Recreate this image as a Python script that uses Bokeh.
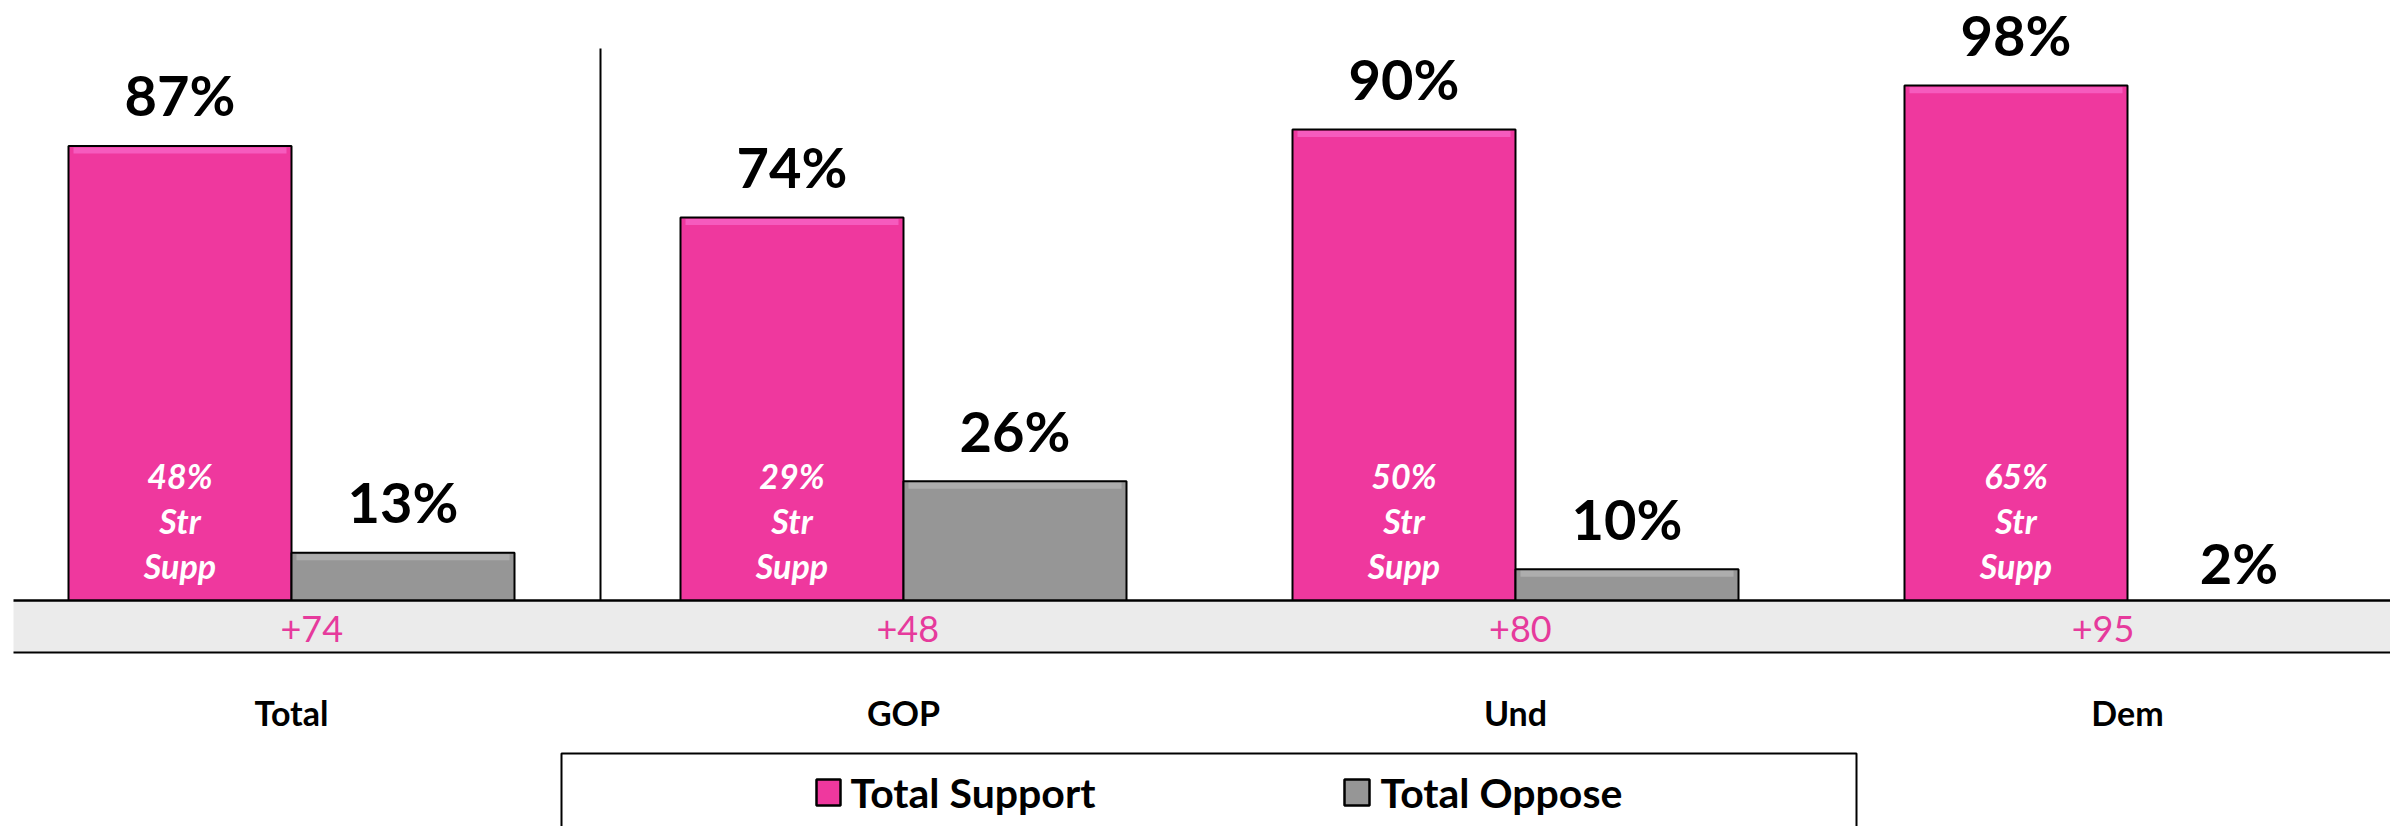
from bokeh.plotting import figure
from bokeh.models import Range1d
from bokeh.core.properties import value
from bokeh.embed import file_html
from bokeh.resources import INLINE

# ---------------- data ----------------
categories = ["Total", "GOP", "Und", "Dem"]
support = [87, 74, 90, 98]
oppose = [13, 26, 10, 2]
strong_support = [48, 29, 50, 65]
net = [74, 48, 80, 95]
legend_labels = ["Total Support", "Total Oppose"]

# ---------------- style / layout ----------------
PINK = "#EF389E"
PINK_HI = "#F764C6"
GREY = "#969696"
GREY_HI = "#B3B3B3"
BAND = "#EBEBEB"
NET_COLOR = "#E63A9C"
FONT = value("Lato")

ORIGIN = 0                         # page offset of the canvas
W, H = 2390, 826
X0_PX, CAT_PX = 291.0, 612.0      # page px of first category centre, px per category
ZERO_PX, UNIT_PX = 623.6, 5.496   # page px of value 0, px per percentage point

x_start = -(X0_PX - ORIGIN) / CAT_PX
x_end = x_start + W / CAT_PX
y_end = (ZERO_PX - ORIGIN) / UNIT_PX
y_start = y_end - H / UNIT_PX


def px_x(px):
    return x_start + (px - ORIGIN) / CAT_PX


def px_y(py):
    return (ZERO_PX - py) / UNIT_PX


BAR_W = 223 / CAT_PX
HALF = BAR_W / 2
net_dx = [0.033, 0.007, 0.008, -0.04]

p = figure(width=W, height=H, x_range=Range1d(x_start, x_end), y_range=Range1d(y_start, y_end),
           output_backend="svg", toolbar_location=None, min_border=0,
           x_axis_type=None, y_axis_type=None)
p.grid.visible = False
p.outline_line_color = None
p.background_fill_color = "white"
p.border_fill_color = "white"

idx = list(range(len(categories)))
xs_sup = [i - HALF for i in idx]
xs_opp = [i + HALF for i in idx]

# bars
p.vbar(x=xs_sup, top=support, bottom=0, width=BAR_W, fill_color=PINK, line_color="black", line_width=2)
p.vbar(x=xs_opp, top=oppose, bottom=0, width=BAR_W, fill_color=GREY, line_color="black", line_width=2)
# bevel highlight at bar tops
hi = 6 / UNIT_PX
p.vbar(x=xs_sup, top=[v - 0.3 for v in support], bottom=[v - 0.3 - hi for v in support],
       width=BAR_W - 10 / CAT_PX, fill_color=PINK_HI, line_color=None, fill_alpha=0.8)
p.vbar(x=xs_opp, top=[v - 0.3 for v in oppose], bottom=[v - 0.3 - hi for v in oppose],
       width=BAR_W - 10 / CAT_PX, fill_color=GREY_HI, line_color=None, fill_alpha=0.8)

# grey band with net scores
p.quad(left=[px_x(13)], right=[px_x(2400)], top=[px_y(600)], bottom=[px_y(652)],
       fill_color=BAND, line_color=None)
p.segment(x0=[px_x(13)], x1=[px_x(2400)], y0=[px_y(600)], y1=[px_y(600)], line_color="black", line_width=2.5)
p.segment(x0=[px_x(13)], x1=[px_x(2400)], y0=[px_y(652)], y1=[px_y(652)], line_color="black", line_width=2)

# separator between Total and subgroups
p.segment(x0=[px_x(600)], x1=[px_x(600)], y0=[px_y(48)], y1=[px_y(600)], line_color="black", line_width=2)

# value labels
p.text(x=xs_sup, y=support, text=[f"{v}%" for v in support], text_align="center", text_baseline="middle",
       y_offset=-51, text_font=FONT, text_font_style="bold", text_font_size="56px", text_color="black")
p.text(x=xs_opp, y=oppose, text=[f"{v}%" for v in oppose], text_align="center", text_baseline="middle",
       y_offset=-51, text_font=FONT, text_font_style="bold", text_font_size="56px", text_color="black")

# strong support labels inside pink bars
for line_texts, py in (([f"{s}%" for s in strong_support], 475),
                       (["Str"] * 4, 520),
                       (["Supp"] * 4, 565)):
    p.text(x=xs_sup, y=[px_y(py)] * 4, text=line_texts, text_align="center", text_baseline="middle",
           text_font=FONT, text_font_style="bold italic", text_font_size="34px", text_color="white")

# net labels
p.text(x=[i + d for i, d in zip(idx, net_dx)], y=[px_y(628)] * 4, text=[f"+{n}" for n in net],
       text_align="center", text_baseline="middle", text_font=FONT, text_font_size="36px",
       text_color=NET_COLOR)

# category labels
p.text(x=idx, y=[px_y(712)] * 4, text=categories, text_align="center", text_baseline="middle",
       text_font=FONT, text_font_style="bold", text_font_size="34px", text_color="black")

# legend
p.quad(left=[px_x(561)], right=[px_x(1856)], top=[px_y(753)], bottom=[y_start - 5],
       fill_color=None, line_color="black", line_width=2)
p.quad(left=[px_x(816), px_x(1344)], right=[px_x(840), px_x(1369)], top=[px_y(779)] * 2,
       bottom=[px_y(805)] * 2, fill_color=[PINK, GREY], line_color="black", line_width=2.5)
p.text(x=[px_x(850), px_x(1380)], y=[px_y(792)] * 2, text=legend_labels, text_align="left",
       text_baseline="middle", text_font=FONT, text_font_style="bold", text_font_size="41px",
       text_color="black")

open("out.html", "w").write(file_html(p, INLINE))
